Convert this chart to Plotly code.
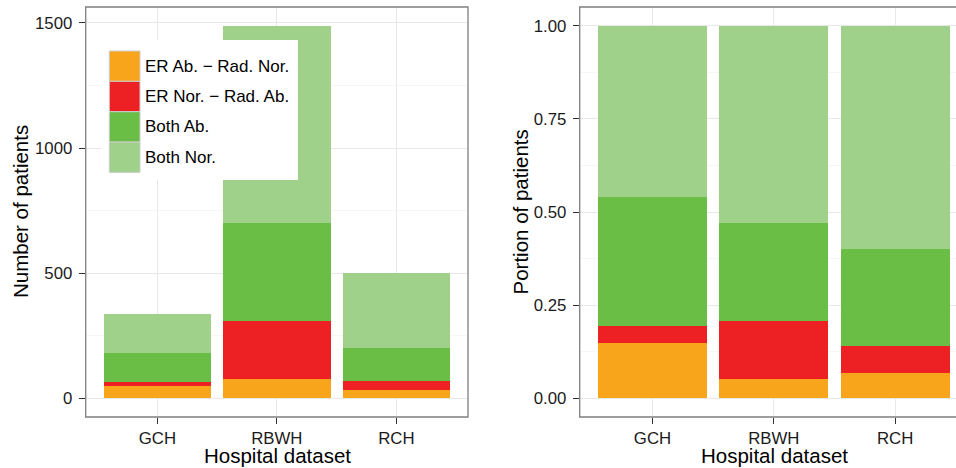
import plotly.graph_objects as go

# ---------------- data ----------------
hospitals = ["GCH", "RBWH", "RCH"]
categories = ["ER Ab. − Rad. Nor.", "ER Nor. − Rad. Ab.", "Both Ab.", "Both Nor."]
er_ab_rad_nor = [50, 77, 34]
er_nor_rad_ab = [15, 232, 36]
both_ab = [117, 392, 131]
both_nor = [155, 788, 299]
colors = ["#F9A51B", "#ED2024", "#6ABD45", "#9FD18B"]

y_left_ticks = [0, 500, 1000, 1500]
y_right_ticks = [0, 0.25, 0.5, 0.75, 1.0]

series = [er_ab_rad_nor, er_nor_rad_ab, both_ab, both_nor]
totals = [sum(s[i] for s in series) for i in range(len(hospitals))]
props = [[s[i] / totals[i] for i in range(len(hospitals))] for s in series]

# ---------------- layout helpers ----------------
W, H = 956, 468
def px(x):
    return x / W
def py(y):
    return 1 - y / H

FONT = "Liberation Sans, Arial, Helvetica, sans-serif"
TICKFONT = dict(family=FONT, size=16.8, color="#1a1a1a")
TITLEFONT = dict(family=FONT, size=20.5, color="#000000")
GRID = "#E8E8E8"
MINOR = "#F6F6F6"

fig = go.Figure()
for name, vals, pr, col in zip(categories, series, props, colors):
    fig.add_trace(go.Bar(x=hospitals, y=vals, name=name, marker=dict(color=col, line=dict(width=0)),
                         showlegend=False, xaxis="x", yaxis="y"))
    fig.add_trace(go.Bar(x=hospitals, y=pr, name=name, marker=dict(color=col, line=dict(width=0)),
                         showlegend=False, xaxis="x2", yaxis="y2"))

ymax = max(totals)
left_range = [-0.05 * ymax, 1.05 * ymax]

plot_top, plot_bot = 7, 417
lx0, lx1 = 85.7, 468
rx0 = 579.7
px_per_unit_r = 121.3
r_visible = (W - rx0) / px_per_unit_r

axis_common = dict(ticks="outside", ticklen=6, tickwidth=1.3, tickcolor="#333333",
                   showline=False, zeroline=False, tickfont=TICKFONT,
                   showgrid=True, gridcolor=GRID, gridwidth=1)

fig.update_layout(
    width=W, height=H,
    margin=dict(l=0, r=0, t=0, b=0),
    paper_bgcolor="white", plot_bgcolor="white",
    barmode="stack", bargap=0.1,
    font=dict(family=FONT),
    xaxis=dict(domain=[px(lx0), px(lx1)], anchor="y", range=[-0.6, 2.6], **axis_common),
    yaxis=dict(domain=[py(plot_bot), py(plot_top)], anchor="x", range=left_range,
               tickvals=y_left_ticks,
               minor=dict(showgrid=True, gridcolor=MINOR, dtick=250, tick0=0, ticks=""),
               ticklabelstandoff=3, **axis_common),
    xaxis2=dict(domain=[px(rx0), 1.0], anchor="y2", range=[-0.6, -0.6 + r_visible], **axis_common),
    yaxis2=dict(domain=[py(plot_bot), py(plot_top)], anchor="x2", range=[-0.05, 1.05],
                tickvals=y_right_ticks, tickformat=".2f",
                minor=dict(showgrid=True, gridcolor=MINOR, dtick=0.125, tick0=0, ticks=""),
                ticklabelstandoff=3, **axis_common),
)

shapes = []
# panel borders
shapes.append(dict(type="rect", xref="x domain", yref="y domain", x0=0, x1=1, y0=0, y1=1,
                   line=dict(color="#7F7F7F", width=1.3), fillcolor="rgba(0,0,0,0)", layer="above"))
shapes.append(dict(type="rect", xref="x2 domain", yref="y2 domain", x0=0, x1=3.2 * px_per_unit_r / (W - rx0),
                   y0=0, y1=1, line=dict(color="#7F7F7F", width=1.3), fillcolor="rgba(0,0,0,0)", layer="above"))

# custom legend (inside left panel)
shapes.append(dict(type="rect", xref="paper", yref="paper", x0=px(101), x1=px(298), y0=py(180), y1=py(40),
                   line=dict(width=0), fillcolor="white", layer="above"))
key_x0, key_x1 = 109.3, 140
key_top, key_h = 51, 30.35
annotations = []
for i, (name, col) in enumerate(zip(categories, colors)):
    t = key_top + i * key_h
    shapes.append(dict(type="rect", xref="paper", yref="paper", x0=px(key_x0), x1=px(key_x1),
                       y0=py(t + key_h), y1=py(t), line=dict(color="#CCCCCC", width=1),
                       fillcolor=col, layer="above"))
    annotations.append(dict(text=name, xref="paper", yref="paper", x=px(143.3), y=py(t + key_h / 2),
                            xanchor="left", yanchor="middle", showarrow=False,
                            font=dict(family=FONT, size=17, color="#000000")))

# axis titles
annotations.append(dict(text="Number of patients", xref="paper", yref="paper", x=px(21), y=py(212),
                        textangle=-90, xanchor="center", yanchor="middle", showarrow=False, font=TITLEFONT))
annotations.append(dict(text="Portion of patients", xref="paper", yref="paper", x=px(520.5), y=py(212),
                        textangle=-90, xanchor="center", yanchor="middle", showarrow=False, font=TITLEFONT))
annotations.append(dict(text="Hospital dataset", xref="paper", yref="paper", x=px(277), y=py(455),
                        xanchor="center", yanchor="middle", showarrow=False, font=TITLEFONT))
annotations.append(dict(text="Hospital dataset", xref="paper", yref="paper", x=px(774), y=py(455),
                        xanchor="center", yanchor="middle", showarrow=False, font=TITLEFONT))

fig.update_layout(shapes=shapes, annotations=annotations)
fig.write_html("out.html", config={"displayModeBar": False},
               post_script="document.body.style.margin='0';document.body.style.overflow='hidden';")
